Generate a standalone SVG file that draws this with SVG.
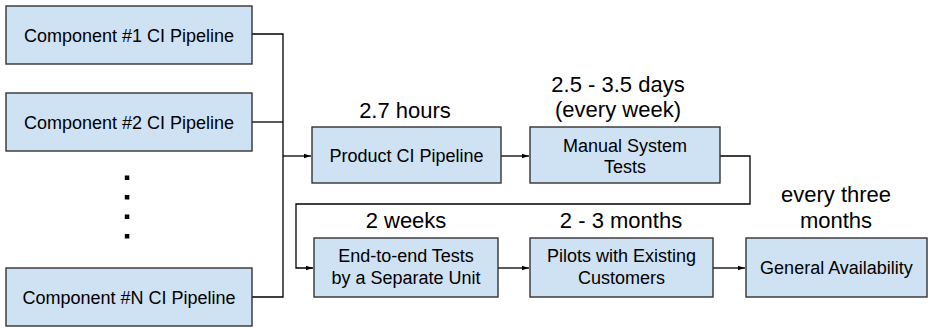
<svg xmlns="http://www.w3.org/2000/svg" width="928" height="328" viewBox="0 0 928 328">
<style>
.box{fill:#cfe2f3;stroke:#333;stroke-width:1.4}
.t{font-family:"Liberation Sans",Arial,sans-serif;font-size:18px;fill:#000;text-anchor:middle}
.lbl{font-family:"Liberation Sans",Arial,sans-serif;font-size:22px;fill:#000;text-anchor:middle}
.c{fill:none;stroke:#000;stroke-width:1.3}
.dot{fill:#000}
</style>
<defs>
<marker id="ah" markerWidth="8" markerHeight="6" refX="7.5" refY="3" orient="auto" markerUnits="userSpaceOnUse">
<path d="M0,0.5 L7.5,3 L0,5.5 Z" fill="#000"/>
</marker>
</defs>
<rect width="928" height="328" fill="#fff"/>
<g id="connectors">
<path class="c" d="M252,34 H283 V297 H252"/>
<path class="c" d="M252,122 H283"/>
<path class="c" d="M283,156 H311" marker-end="url(#ah)"/>
<path class="c" d="M501,156 H529" marker-end="url(#ah)"/>
<path class="c" d="M720,156 H750 V204 H296 V268 H313" marker-end="url(#ah)"/>
<path class="c" d="M498,268 H529" marker-end="url(#ah)"/>
<path class="c" d="M713,268 H745" marker-end="url(#ah)"/>
</g>
<g id="comp1">
<rect class="box" x="6" y="6" width="246" height="58"/>
<text class="t" x="129" y="42">Component #1 CI Pipeline</text>
</g>
<g id="comp2">
<rect class="box" x="6" y="93" width="246" height="58"/>
<text class="t" x="129" y="129">Component #2 CI Pipeline</text>
</g>
<g id="dots">
<rect class="dot" x="124.8" y="175.5" width="4.5" height="4.5"/>
<rect class="dot" x="124.8" y="195" width="4.5" height="4.5"/>
<rect class="dot" x="124.8" y="214.5" width="4.5" height="4.5"/>
<rect class="dot" x="124.8" y="234" width="4.5" height="4.5"/>
</g>
<g id="compN">
<rect class="box" x="6" y="268" width="246" height="58"/>
<text class="t" x="129" y="304">Component #N CI Pipeline</text>
</g>
<g id="productCI">
<text class="lbl" x="405" y="118">2.7 hours</text>
<rect class="box" x="312" y="127" width="189" height="56"/>
<text class="t" x="406.5" y="162">Product CI Pipeline</text>
</g>
<g id="manual">
<text class="lbl" x="618" y="92">2.5 - 3.5 days</text>
<text class="lbl" x="618" y="117">(every week)</text>
<rect class="box" x="530" y="127" width="190" height="56"/>
<text class="t" x="625" y="151.5">Manual System</text>
<text class="t" x="625" y="173">Tests</text>
</g>
<g id="e2e">
<text class="lbl" x="406" y="228">2 weeks</text>
<rect class="box" x="314" y="238" width="184" height="59"/>
<text class="t" x="406" y="262">End-to-end Tests</text>
<text class="t" x="406" y="284">by a Separate Unit</text>
</g>
<g id="pilots">
<text class="lbl" x="621" y="228">2 - 3 months</text>
<rect class="box" x="530" y="238" width="183" height="59"/>
<text class="t" x="621.5" y="262">Pilots with Existing</text>
<text class="t" x="621.5" y="284">Customers</text>
</g>
<g id="ga">
<text class="lbl" x="836" y="202">every three</text>
<text class="lbl" x="836" y="228">months</text>
<rect class="box" x="746" y="238" width="181" height="59"/>
<text class="t" x="836.5" y="274">General Availability</text>
</g>
</svg>
